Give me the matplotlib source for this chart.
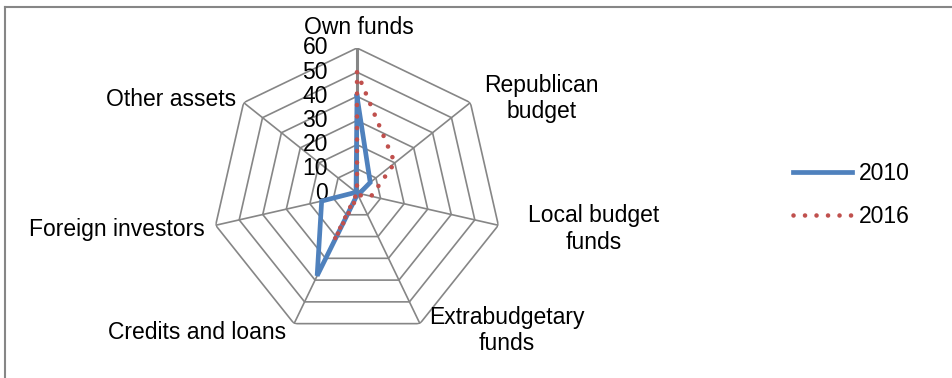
import numpy as np
import matplotlib
matplotlib.use("Agg")
import matplotlib.pyplot as plt
from matplotlib.lines import Line2D

plt.rcParams['font.family'] = ['Liberation Sans', 'DejaVu Sans']

categories = ["Own funds", "Republican\nbudget", "Local budget\nfunds",
              "Extrabudgetary\nfunds", "Credits and loans", "Foreign investors",
              "Other assets"]
series_2010 = [40, 7, 1, 0.5, 38, 15, 0.5]
series_2016 = [50, 20, 6, 1, 22, 0, 0]
radial_ticks = [0, 10, 20, 30, 40, 50, 60]
series_names = ["2010", "2016"]

BLUE = "#4F81BD"
RED = "#C0504D"
GRID = "#868686"
FS = 16.5

W, H = 952, 378
fig = plt.figure(figsize=(W / 100, H / 100), dpi=100)

# polar axes sized so the 60 ring has a 145 px radius around (357, 193)
cx, cy, R = 357, 193, 145
ax = fig.add_axes([(cx - R) / W, (H - cy - R) / H, 2 * R / W, 2 * R / H],
                  projection="polar")
ax.set_theta_zero_location("N")
ax.set_theta_direction(-1)
ax.set_ylim(0, radial_ticks[-1])
ax.grid(False)
ax.spines["polar"].set_visible(False)
ax.set_xticks([])
ax.set_yticks([])
ax.patch.set_alpha(0)

n = len(categories)
angles = np.linspace(0, 2 * np.pi, n, endpoint=False)
closed = np.concatenate([angles, angles[:1]])

# heptagonal grid rings and spokes
for r in radial_ticks[1:]:
    ax.plot(closed, [r] * (n + 1), color=GRID, lw=1.2, zorder=1)
for i, a in enumerate(angles):
    ax.plot([a, a], [0, radial_ticks[-1]], color=GRID,
            lw=2.2 if i == 0 else 1.2, zorder=1)

# radial value labels along the top spoke
for r in radial_ticks:
    ax.annotate(str(r), xy=(0, r), xytext=(-29, 0), textcoords="offset pixels",
                ha="right", va="center", fontsize=FS, annotation_clip=False)

# category labels near each outer vertex
label_offsets = [(2, 21), (71, 4), (95, -4), (87, -7), (-97, -9), (-99, -4), (-73, 3)]
for a, lab, off in zip(angles, categories, label_offsets):
    ax.annotate(lab, xy=(a, radial_ticks[-1]), xytext=off, textcoords="offset pixels",
                ha="center", va="center", multialignment="center",
                fontsize=FS, annotation_clip=False, linespacing=1.2)

v10 = series_2010 + series_2010[:1]
v16 = series_2016 + series_2016[:1]
l1, = ax.plot(closed, v10, color=BLUE, lw=3.4, solid_joinstyle="miter",
              zorder=3, label=series_names[0])
l2, = ax.plot(closed, v16, color=RED, lw=3.3, linestyle=(0, (0.01, 2.5)),
              dash_capstyle="round", zorder=4, label=series_names[1])

fig.legend(handles=[l1, l2], loc="center left",
           bbox_to_anchor=(784 / W, 1 - 195 / H), frameon=False,
           fontsize=FS, handlelength=2.55, handletextpad=0.3,
           labelspacing=0.85, borderaxespad=0)

# outer frame edges
fig.add_artist(Line2D([5 / W, 1], [1 - 7 / H, 1 - 7 / H], color=GRID, lw=1.5,
                      transform=fig.transFigure))
fig.add_artist(Line2D([5 / W, 5 / W], [0, 1 - 7 / H], color=GRID, lw=1.5,
                      transform=fig.transFigure))

fig.savefig("out.png", dpi=100)
